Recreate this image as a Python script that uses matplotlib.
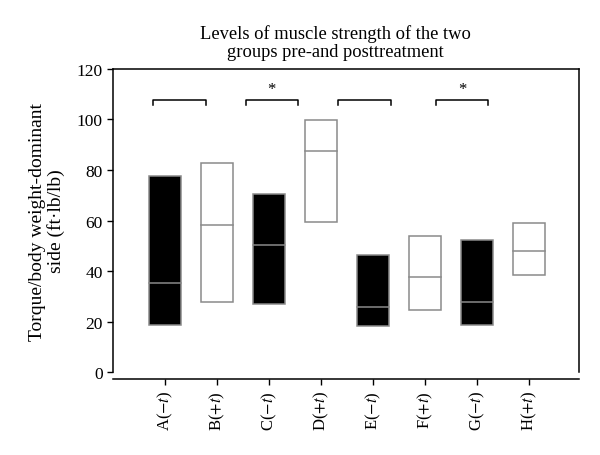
import matplotlib
matplotlib.use("Agg")
import matplotlib.pyplot as plt
import numpy as np

plt.rcParams['font.family'] = ['Liberation Serif', 'DejaVu Serif']
plt.rcParams['mathtext.fontset'] = 'stix'

# data
groups = [r'A($-t$)', r'B($+t$)', r'C($-t$)', r'D($+t$)',
          r'E($-t$)', r'F($+t$)', r'G($-t$)', r'H($+t$)']
pretreat = [True, False, True, False, True, False, True, False]
lows = [18.6, 27.6, 26.8, 59.3, 18.2, 24.6, 18.6, 38.4]
highs = [77.5, 82.8, 70.4, 99.7, 46.3, 54.0, 52.4, 58.9]
medians = [35.1, 58.1, 50.4, 87.4, 25.9, 37.5, 27.8, 47.8]

# comparison brackets (start, end, significant)
brackets = [(0.77, 1.79, False), (2.55, 3.56, True),
            (4.32, 5.34, False), (6.21, 7.21, True)]
bracket_y = 107.6

fig = plt.figure(figsize=(6, 4.56), dpi=100)
ax = fig.add_axes([0.1883, 0.182, 0.7767, 0.6645])
ax.spines['bottom'].set_position(('outward', 5))

x = np.arange(1, len(groups) + 1)
w = 0.6
edge = '#8a8a8a'
for xi, lo, hi, med, pre in zip(x, lows, highs, medians, pretreat):
    ax.bar(xi, hi - lo, bottom=lo, width=w, color='black' if pre else 'white',
           edgecolor=edge, linewidth=1.1, zorder=2)
    ax.plot([xi - w / 2, xi + w / 2], [med, med], color=edge, lw=1.1, zorder=3)

for x0, x1, sig in brackets:
    ax.plot([x0, x0, x1, x1], [bracket_y - 1.9, bracket_y, bracket_y, bracket_y - 1.9],
            color='black', lw=1.1)
    if sig:
        ax.text((x0 + x1) / 2, bracket_y + 1.5, '*', ha='center', va='bottom', fontsize=12)

ax.set_xlim(0, 8.96)
ax.set_ylim(0, 120)
ax.set_yticks(range(0, 121, 20))
ax.set_xticks(x)
ax.set_xticklabels(groups)
ax.tick_params(axis='y', labelsize=12.5, length=4, width=1, direction='out')
ax.tick_params(axis='x', labelsize=12, labelrotation=90, length=4, width=1,
               direction='out', pad=4)

for s in ax.spines.values():
    s.set_linewidth(1.1)

ax.set_ylabel('Torque/body weight-dominant\nside (ft·lb/lb)', fontsize=14,
              labelpad=8, linespacing=1.1)
ax.set_title('Levels of muscle strength of the two\ngroups pre-and posttreatment',
             fontsize=13.3, pad=9, x=0.477, linespacing=1.15)

fig.savefig('out.png', dpi=100)
